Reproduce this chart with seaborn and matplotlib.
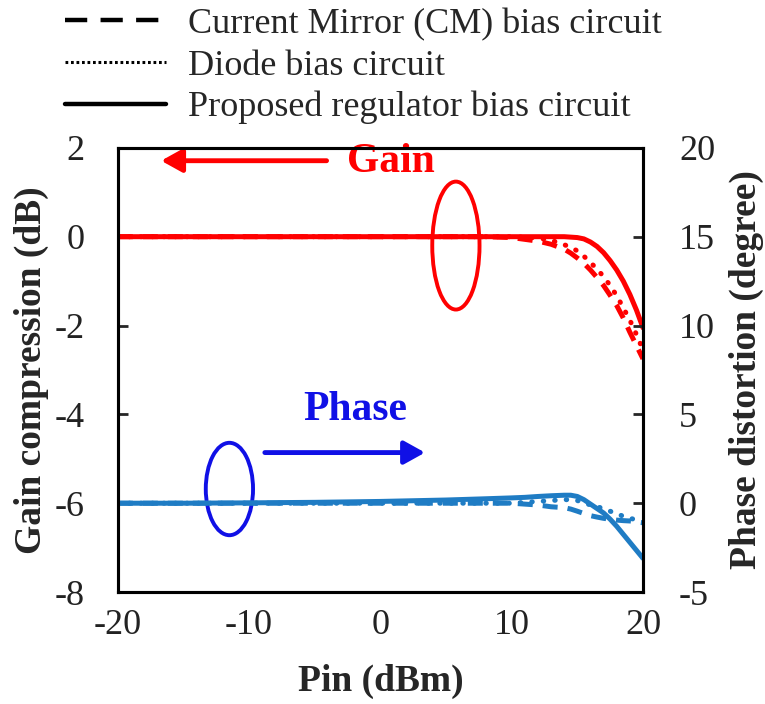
import numpy as np
import pandas as pd
import seaborn as sns
import matplotlib
matplotlib.use("Agg")
import matplotlib.pyplot as plt
from matplotlib.lines import Line2D
from matplotlib.patches import Ellipse

# Input power sweep (dBm)
pin = [-20, -15, -10, -5, 0, 5, 8, 10, 11, 12, 13, 14, 14.5, 15, 15.5, 16, 16.5,
       17, 17.5, 18, 18.5, 19, 19.5, 20]

# Gain compression (dB)
gain_cm = [0, 0, 0, 0, 0, 0, 0, -0.02, -0.06, -0.1, -0.17, -0.28, -0.37, -0.48,
           -0.6, -0.75, -0.92, -1.1, -1.32, -1.55, -1.83, -2.15, -2.45, -2.75]
gain_diode = [0, 0, 0, 0, 0, 0, 0, 0, -0.01, -0.03, -0.08, -0.18, -0.24, -0.32,
              -0.44, -0.58, -0.73, -0.9, -1.1, -1.33, -1.6, -1.88, -2.2, -2.55]
gain_reg = [0, 0, 0, 0, 0, 0, 0, 0, 0, 0, 0, 0, -0.01, -0.02,
            -0.05, -0.12, -0.22, -0.36, -0.54, -0.75, -1.0, -1.3, -1.65, -2.05]

# Phase distortion (degree)
phase_cm = [0, 0, 0, 0, 0, 0, 0, 0, -0.05, -0.1, -0.2, -0.25, -0.33, -0.45,
            -0.58, -0.7, -0.78, -0.85, -0.9, -0.95, -0.98, -1.0, -1.05, -1.1]
phase_diode = [0, 0, 0, 0, 0, 0, 0, 0, 0.05, 0.1, 0.15, 0.2, 0.2, 0.15,
               0.03, -0.1, -0.2, -0.3, -0.45, -0.6, -0.73, -0.85, -0.93, -1.0]
phase_reg = [0, 0, 0.02, 0.05, 0.1, 0.18, 0.25, 0.3, 0.33, 0.38, 0.42, 0.45, 0.45, 0.38,
             0.2, -0.05, -0.3, -0.55, -0.9, -1.3, -1.75, -2.2, -2.65, -3.1]

legend_labels = ["Current Mirror (CM) bias circuit", "Diode bias circuit",
                 "Proposed regulator bias circuit"]

RED = "#ff0000"
BLUE_LINE = "#1f7cc4"
BLUE_NOTE = "#1010e6"
FS = 26

sns.set_style("white")
plt.rcParams["font.family"] = ["Liberation Serif", "DejaVu Serif"]
plt.rcParams["axes.unicode_minus"] = False

fig = plt.figure(figsize=(7.65, 7.04), dpi=100)
ax = fig.add_axes([0.154, 0.159, 0.6865, 0.631])
ax2 = ax.twinx()

df = pd.DataFrame({"pin": pin, "gain_cm": gain_cm, "gain_diode": gain_diode,
                   "gain_reg": gain_reg, "phase_cm": phase_cm,
                   "phase_diode": phase_diode, "phase_reg": phase_reg})

LW = 3.6
styles = {
    "cm": dict(dashes=(3.0, 2.0), dash_capstyle="butt"),
    "diode": dict(dashes=(0.1, 2.2), dash_capstyle="round"),
    "reg": dict(linestyle="-"),
}

for key in ["cm", "diode", "reg"]:
    sns.lineplot(data=df, x="pin", y=f"gain_{key}", ax=ax, color=RED, lw=LW,
                 legend=False, **styles[key])
    sns.lineplot(data=df, x="pin", y=f"phase_{key}", ax=ax2, color=BLUE_LINE,
                 lw=LW, legend=False, **styles[key])

ax.set_xlim(-20, 20)
ax.set_ylim(-8, 2)
ax2.set_ylim(-5, 20)
ax.set_xticks([-20, -10, 0, 10, 20])
ax.set_yticks([-8, -6, -4, -2, 0, 2])
ax2.set_yticks([-5, 0, 5, 10, 15, 20])

ax.set_xlabel("Pin (dBm)", fontsize=FS + 1, fontweight="bold", labelpad=16)
ax.set_ylabel("Gain compression (dB)", fontsize=FS + 1, fontweight="bold", labelpad=4)
ax2.set_ylabel("Phase distortion (degree)", fontsize=FS + 1, fontweight="bold", labelpad=10)

for a in (ax, ax2):
    for s in a.spines.values():
        s.set_linewidth(2.2)
        s.set_color("black")
ax.tick_params(axis="x", direction="in", length=7, width=2, labelsize=FS, pad=12,
               colors="black", labelcolor="#222222")
ax.tick_params(axis="y", direction="in", length=7, width=2, labelsize=FS, pad=24,
               labelcolor="#222222")
ax2.tick_params(axis="y", direction="in", length=7, width=2, labelsize=FS, pad=26,
                labelcolor="#222222")
for lab in ax2.get_yticklabels():
    lab.set_horizontalalignment("left")

arrow_style = "-|>,head_length=0.9,head_width=0.5"

# Gain annotation: label, arrow towards the left axis, ellipse around curves
ax.text(0.8, 1.69, "Gain", color=RED, fontsize=30, fontweight="bold",
        ha="center", va="center")
ax.annotate("", xy=(-16.7, 1.71), xytext=(-4.1, 1.71),
            arrowprops=dict(arrowstyle=arrow_style, color=RED, lw=3.5,
                            mutation_scale=14, shrinkA=0, shrinkB=0))
ax.add_patch(Ellipse((5.75, -0.2), width=3.6, height=2.88, fill=False,
                     edgecolor=RED, lw=2.8))

# Phase annotation: label, arrow towards the right axis, ellipse around curves
ax.text(-1.9, -3.9, "Phase", color=BLUE_NOTE, fontsize=30, fontweight="bold",
        ha="center", va="center")
ax.annotate("", xy=(3.4, -4.86), xytext=(-8.8, -4.86),
            arrowprops=dict(arrowstyle=arrow_style, color=BLUE_NOTE, lw=3.5,
                            mutation_scale=14, shrinkA=0, shrinkB=0))
ax.add_patch(Ellipse((-11.5, -5.68), width=3.6, height=2.08, fill=False,
                     edgecolor=BLUE_NOTE, lw=2.8))

# Line-style key in the top margin
handles = [
    Line2D([], [], color="black", lw=3.2, dashes=(5.0, 3.0)),
    Line2D([], [], color="black", lw=2.2, dashes=(0.9, 0.9)),
    Line2D([], [], color="black", lw=3.2),
]
fig.legend(handles, legend_labels, loc="upper left", bbox_to_anchor=(0.085, 0.989),
           frameon=False, fontsize=FS, handlelength=2.8, handletextpad=0.6,
           labelspacing=0.23, borderpad=0.0, borderaxespad=0.0)

fig.savefig("out.png", dpi=100, facecolor="white")
